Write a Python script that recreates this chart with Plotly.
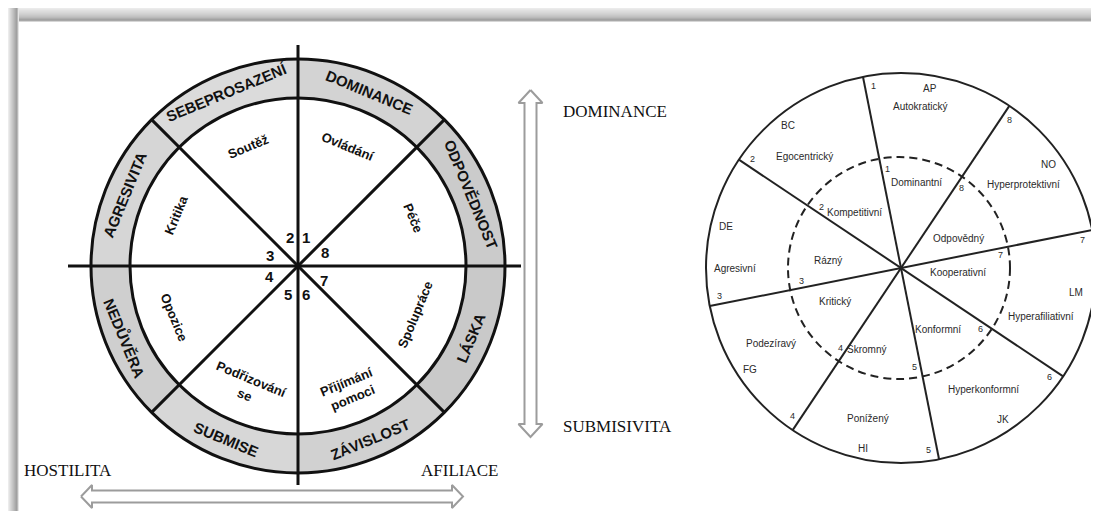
import numpy as np
import plotly.graph_objects as go

# ---------------- DATA ----------------
# Left diagram (Leary interpersonal circle, Czech labels)
ring_labels = ["DOMINANCE", "ODPOVĚDNOST", "LÁSKA", "ZÁVISLOST",
               "SUBMISE", "NEDŮVĚRA", "AGRESIVITA", "SEBEPROSAZENÍ"]
inner_labels = ["Ovládání", "Péče", "Spolupráce", "Přijímání<br>pomoci",
                "Podřizování<br>se", "Opozice", "Kritika", "Soutěž"]
octant_numbers = ["1", "8", "7", "6", "5", "4", "3", "2"]
vertical_axis_labels = ["DOMINANCE", "SUBMISIVITA"]
horizontal_axis_labels = ["HOSTILITA", "AFILIACE"]

# Right diagram (8 octants with extreme / moderate types)
right_numbers = ["1", "8", "7", "6", "5", "4", "3", "2"]
right_codes = ["AP", "NO", "LM", "JK", "HI", "FG", "DE", "BC"]
right_extreme = ["Autokratický", "Hyperprotektivní", "Hyperafiliativní", "Hyperkonformní",
                 "Ponížený", "Podezíravý", "Agresivní", "Egocentrický"]
right_moderate = ["Dominantní", "Odpovědný", "Kooperativní", "Konformní",
                  "Skromný", "Kritický", "Rázný", "Kompetitivní"]

# ---------------- LAYOUT / GEOMETRY ----------------
W, H = 1099, 511
L_CX, L_CY, L_RO, L_RI = 290, 258, 207, 168
L_MID = [67.5, 22.5, -22.5, -67.5, -112.5, -157.5, 157.5, 112.5]
L_NUM_ANG = [75, 27, -28, -75, -109, -160, 160, 106]
L_NUM_R = 30
L_INNER_R = [129, 125, 127, 134, 131, 134, 132, 129]
ring_fill = ["#d3d3d3", "#cbcbcb", "#c9c9c9", "#d1d1d1",
             "#d7d7d7", "#cfcfcf", "#d6d6d6", "#dbdbdb"]

R_CX, R_CY, R_RO, R_RD = 893, 260, 195, 111
R_LINE_ANG = [101.25, 56.25, 11.25, -33.75, -78.75, -123.75, -168.75, 146.25]
R_CODE_POS = [(80.8, 182), (35, 180), (-8.1, 177), (-56.1, 183),
              (-101.9, 184), (-146, 182), (166.8, 180), (128.3, 182)]
R_EXT_POS = [(83.3, 163), (34.2, 148), (-19.3, 148), (-56, 147),
             (-102.4, 154), (-150, 150), (180, 166), (130.9, 147)]
R_MOD_POS = [(80, 87), (27, 64), (-5, 57), (-59, 72),
             (-113, 88), (-153, 74), (174, 73), (130, 72)]


def pol(cx, cy, r, deg):
    t = np.deg2rad(deg)
    return cx + r * np.cos(t), cy - r * np.sin(t)


def tangent_angle(deg):
    a = deg % 360
    return 90 - a if a <= 180 else 270 - a


fig = go.Figure()
shapes = []
annotations = []

# ---- frame bands (top and left, grey shadow) ----
top_band = ["#ebebeb", "#e6e6e6", "#e0e0e0", "#dcdcdc", "#d8d8d8", "#d3d3d3", "#cecece",
            "#c8c8c8", "#c2c2c2", "#bababa", "#aeaeae", "#a2a2a2", "#a8a8a8", "#d6d6d6"]
for i, c in enumerate(top_band):
    shapes.append(dict(type="rect", xref="x", yref="y", x0=0, x1=W, y0=i, y1=i + 1,
                       fillcolor=c, line=dict(width=0), layer="below"))
left_band = ["#ececec", "#e2e2e2", "#d8d8d8", "#cfcfcf", "#c6c6c6", "#bdbdbd",
             "#b3b3b3", "#a9a9a9", "#a0a0a0", "#b8b8b8", "#e4e4e4"]
for i, c in enumerate(left_band):
    shapes.append(dict(type="rect", xref="x", yref="y", x0=i, x1=i + 1, y0=0, y1=H,
                       fillcolor=c, line=dict(width=0), layer="below"))

# ---- left diagram: shaded ring segments ----
for k, mid in enumerate(L_MID):
    th = np.linspace(mid - 22.5, mid + 22.5, 60)
    xo, yo = pol(L_CX, L_CY, L_RO, th)
    xi, yi = pol(L_CX, L_CY, L_RI, th[::-1])
    fig.add_trace(go.Scatter(x=np.r_[xo, xi, xo[:1]], y=np.r_[yo, yi, yo[:1]],
                             mode="lines", fill="toself", fillcolor=ring_fill[k],
                             line=dict(width=0), hoverinfo="skip", showlegend=False))

# circles
for r in (L_RO, L_RI):
    shapes.append(dict(type="circle", xref="x", yref="y", x0=L_CX - r, x1=L_CX + r,
                       y0=L_CY - r, y1=L_CY + r, line=dict(color="#111", width=3)))
# axes lines extending beyond circle
shapes.append(dict(type="line", xref="x", yref="y", x0=L_CX, x1=L_CX, y0=37, y1=477,
                   line=dict(color="#111", width=3)))
shapes.append(dict(type="line", xref="x", yref="y", x0=60, x1=513, y0=L_CY, y1=L_CY,
                   line=dict(color="#111", width=3)))
# diagonals
for a in (45, 135):
    x0, y0 = pol(L_CX, L_CY, L_RO, a)
    x1, y1 = pol(L_CX, L_CY, L_RO, a + 180)
    shapes.append(dict(type="line", xref="x", yref="y", x0=x0, x1=x1, y0=y0, y1=y1,
                       line=dict(color="#111", width=3)))

# ring labels
for k, mid in enumerate(L_MID):
    x, y = pol(L_CX, L_CY, (L_RO + L_RI) / 2, mid)
    annotations.append(dict(x=x, y=y, xref="x", yref="y", text="<b>" + ring_labels[k] + "</b>",
                            showarrow=False, textangle=tangent_angle(mid),
                            font=dict(family="Liberation Sans", size=15, color="#111"),
                            xanchor="center", yanchor="middle"))
# inner labels
for k, mid in enumerate(L_MID):
    x, y = pol(L_CX, L_CY, L_INNER_R[k], mid)
    annotations.append(dict(x=x, y=y, xref="x", yref="y", text="<b>" + inner_labels[k] + "</b>",
                            showarrow=False, textangle=tangent_angle(mid),
                            font=dict(family="Liberation Sans", size=13, color="#111"),
                            xanchor="center", yanchor="middle"))
# octant numbers
for k, a in enumerate(L_NUM_ANG):
    x, y = pol(L_CX, L_CY, L_NUM_R, a)
    annotations.append(dict(x=x, y=y, xref="x", yref="y", text="<b>" + octant_numbers[k] + "</b>",
                            showarrow=False,
                            font=dict(family="Liberation Sans", size=15, color="#111"),
                            xanchor="center", yanchor="middle"))

# ---- double arrows (hollow) ----
def v_arrow(xc, ytop, ybot, hw_shaft, hw_head, head_len):
    xs = [xc, xc + hw_head, xc + hw_shaft, xc + hw_shaft, xc + hw_head, xc,
          xc - hw_head, xc - hw_shaft, xc - hw_shaft, xc - hw_head, xc]
    ys = [ytop, ytop + head_len, ytop + head_len, ybot - head_len, ybot - head_len, ybot,
          ybot - head_len, ybot - head_len, ytop + head_len, ytop + head_len, ytop]
    return xs, ys


vx, vy = v_arrow(522.5, 82, 429, 6, 12, 13)
fig.add_trace(go.Scatter(x=vx, y=vy, mode="lines", fill="toself", fillcolor="white",
                         line=dict(color="#9c9c9c", width=2), hoverinfo="skip", showlegend=False))
hy, hx = v_arrow(488.5, 73, 455, 6, 11.5, 11)
fig.add_trace(go.Scatter(x=hx, y=hy, mode="lines", fill="toself", fillcolor="white",
                         line=dict(color="#9c9c9c", width=2), hoverinfo="skip", showlegend=False))

serif = dict(family="Liberation Serif", size=17, color="#111")
annotations.append(dict(x=553, y=103, xref="x", yref="y", text=vertical_axis_labels[0],
                        showarrow=False, xanchor="left", yanchor="middle", font=serif))
annotations.append(dict(x=553, y=418, xref="x", yref="y", text=vertical_axis_labels[1],
                        showarrow=False, xanchor="left", yanchor="middle", font=serif))
annotations.append(dict(x=14, y=462, xref="x", yref="y", text=horizontal_axis_labels[0],
                        showarrow=False, xanchor="left", yanchor="middle", font=serif))
annotations.append(dict(x=492, y=462, xref="x", yref="y", text=horizontal_axis_labels[1],
                        showarrow=False, xanchor="right", yanchor="middle", font=serif))

# ---- right diagram ----
shapes.append(dict(type="circle", xref="x", yref="y", x0=R_CX - R_RO, x1=R_CX + R_RO,
                   y0=R_CY - R_RO, y1=R_CY + R_RO, line=dict(color="#222", width=2)))
shapes.append(dict(type="circle", xref="x", yref="y", x0=R_CX - 2 - R_RD, x1=R_CX - 2 + R_RD,
                   y0=R_CY - R_RD, y1=R_CY + R_RD,
                   line=dict(color="#222", width=2, dash="8px,5px")))
for a in R_LINE_ANG[:4]:
    x0, y0 = pol(R_CX, R_CY, R_RO, a)
    x1, y1 = pol(R_CX, R_CY, R_RO, a + 180)
    shapes.append(dict(type="line", xref="x", yref="y", x0=x0, x1=x1, y0=y0, y1=y1,
                       line=dict(color="#222", width=2)))

small = dict(family="Liberation Sans", size=10, color="#2a2a2a")
tiny = dict(family="Liberation Sans", size=9, color="#2a2a2a")
for k, a in enumerate(R_LINE_ANG):
    x, y = pol(R_CX, R_CY, 184, a - 2.5)
    annotations.append(dict(x=x, y=y, xref="x", yref="y", text=right_numbers[k],
                            showarrow=False, font=tiny))
    x, y = pol(R_CX, R_CY, 100, a - 3.5)
    annotations.append(dict(x=x, y=y, xref="x", yref="y", text=right_numbers[k],
                            showarrow=False, font=tiny))
for k in range(8):
    a, r = R_CODE_POS[k]
    x, y = pol(R_CX, R_CY, r, a)
    annotations.append(dict(x=x, y=y, xref="x", yref="y", text=right_codes[k],
                            showarrow=False, font=small))
    a, r = R_EXT_POS[k]
    x, y = pol(R_CX, R_CY, r, a)
    annotations.append(dict(x=x, y=y, xref="x", yref="y", text=right_extreme[k],
                            showarrow=False, font=small))
    a, r = R_MOD_POS[k]
    x, y = pol(R_CX, R_CY, r, a)
    annotations.append(dict(x=x, y=y, xref="x", yref="y", text=right_moderate[k],
                            showarrow=False, font=small))

fig.update_layout(
    width=W, height=H, autosize=False,
    margin=dict(l=0, r=0, t=0, b=0, pad=0),
    paper_bgcolor="white", plot_bgcolor="white",
    xaxis=dict(range=[0, W], visible=False, fixedrange=True),
    yaxis=dict(range=[H, 0], visible=False, fixedrange=True),
    shapes=shapes, annotations=annotations, showlegend=False,
)
fig.write_html("out.html", config=dict(displayModeBar=False))
